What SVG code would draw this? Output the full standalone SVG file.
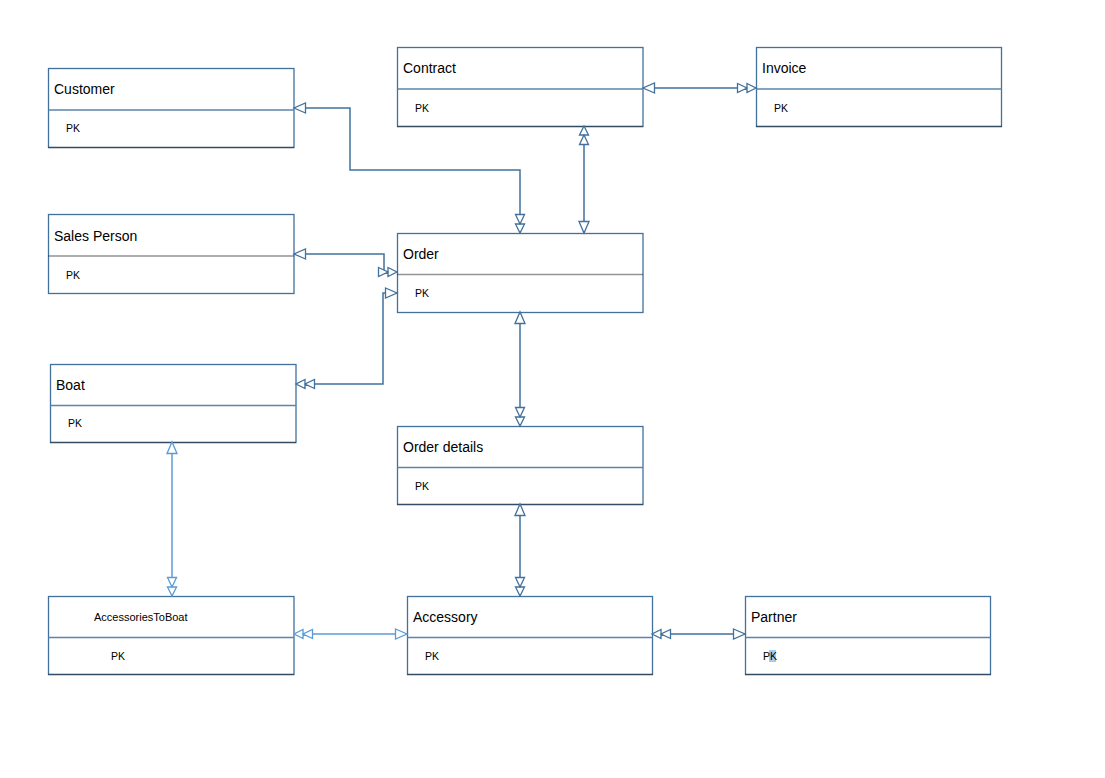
<svg xmlns="http://www.w3.org/2000/svg" width="1105" height="778" viewBox="0 0 1105 778">
<style>
.box{fill:#fff;stroke:#41719c;stroke-width:1.3}
.div{stroke:#5b84ad;stroke-width:1.3}
.dot{stroke:#2a2a2a;stroke-width:1.3;stroke-dasharray:1 1}
.t{font-family:"Liberation Sans",Arial,sans-serif;font-size:14px;fill:#000}
.pk{font-family:"Liberation Sans",Arial,sans-serif;font-size:10.5px;fill:#000}
.c{fill:none;stroke:#41719c;stroke-width:1.5}
.cl{fill:none;stroke:#5b9bd5;stroke-width:1.5}
</style>
<defs>
<marker id="one" markerUnits="userSpaceOnUse" markerWidth="14" markerHeight="12" refX="12" refY="6" orient="auto-start-reverse" overflow="visible">
<path d="M0.5,1 L12,6 L0.5,11 Z" fill="#fff" stroke="#41719c" stroke-width="1.3"/>
</marker>
<marker id="two" markerUnits="userSpaceOnUse" markerWidth="20" markerHeight="12" refX="19" refY="6" orient="auto-start-reverse" overflow="visible">
<path d="M0.5,1.5 L10,6 L0.5,10.5 Z M10,1.5 L19,6 L10,10.5 Z" fill="#fff" stroke="#41719c" stroke-width="1.3"/>
</marker>
<marker id="oneL" markerUnits="userSpaceOnUse" markerWidth="14" markerHeight="12" refX="12" refY="6" orient="auto-start-reverse" overflow="visible">
<path d="M0.5,1 L12,6 L0.5,11 Z" fill="#fff" stroke="#5b9bd5" stroke-width="1.3"/>
</marker>
<marker id="twoL" markerUnits="userSpaceOnUse" markerWidth="20" markerHeight="12" refX="19" refY="6" orient="auto-start-reverse" overflow="visible">
<path d="M0.5,1.5 L10,6 L0.5,10.5 Z M10,1.5 L19,6 L10,10.5 Z" fill="#fff" stroke="#5b9bd5" stroke-width="1.3"/>
</marker>
</defs>
<rect width="1105" height="778" fill="#fff"/>

<g id="customer">
<rect class="box" x="48.5" y="68.5" width="245.5" height="79"/>
<line class="div" x1="48.5" y1="110" x2="294" y2="110"/>
<line class="dot" x1="48.5" y1="147.5" x2="294" y2="147.5"/>
<text class="t" x="54" y="94">Customer</text>
<text class="pk" x="66" y="132">PK</text>
</g>

<g id="contract">
<rect class="box" x="397.5" y="47.5" width="245.5" height="79"/>
<line class="div" x1="397.5" y1="89" x2="643" y2="89"/>
<line class="dot" x1="397.5" y1="126.5" x2="643" y2="126.5"/>
<text class="t" x="403" y="73">Contract</text>
<text class="pk" x="415" y="112">PK</text>
</g>

<g id="invoice">
<rect class="box" x="756.5" y="47.5" width="245" height="79"/>
<line class="div" x1="756.5" y1="89" x2="1001.5" y2="89"/>
<line class="dot" x1="756.5" y1="126.5" x2="1001.5" y2="126.5"/>
<text class="t" x="762" y="73">Invoice</text>
<text class="pk" x="774" y="112">PK</text>
</g>

<g id="salesperson">
<rect class="box" x="48.5" y="214.5" width="245.5" height="79"/>
<line class="dot" x1="48.5" y1="256" x2="294" y2="256"/>
<text class="t" x="54" y="241">Sales Person</text>
<text class="pk" x="66" y="279">PK</text>
</g>

<g id="order">
<rect class="box" x="397.5" y="233.5" width="245.5" height="79"/>
<line class="dot" x1="397.5" y1="274.5" x2="643" y2="274.5"/>
<text class="t" x="403" y="259">Order</text>
<text class="pk" x="415" y="297">PK</text>
</g>

<g id="boat">
<rect class="box" x="50.5" y="364.5" width="245.5" height="78"/>
<line class="div" x1="50.5" y1="405.5" x2="296" y2="405.5"/>
<line class="dot" x1="50.5" y1="442.5" x2="296" y2="442.5"/>
<text class="t" x="56" y="390">Boat</text>
<text class="pk" x="68" y="427">PK</text>
</g>

<g id="orderdetails">
<rect class="box" x="397.5" y="426.5" width="245.5" height="78"/>
<line class="div" x1="397.5" y1="467.5" x2="643" y2="467.5"/>
<line class="dot" x1="397.5" y1="504.5" x2="643" y2="504.5"/>
<text class="t" x="403" y="452">Order details</text>
<text class="pk" x="415" y="490">PK</text>
</g>

<g id="accessoriestoboat">
<rect class="box" x="48.5" y="596.5" width="245.5" height="78"/>
<line class="div" x1="48.5" y1="637.5" x2="294" y2="637.5"/>
<line class="dot" x1="48.5" y1="674.5" x2="294" y2="674.5"/>
<text class="pk" x="94" y="621" style="font-size:11px">AccessoriesToBoat</text>
<text class="pk" x="111" y="660">PK</text>
</g>

<g id="accessory">
<rect class="box" x="407.5" y="596.5" width="245" height="78"/>
<line class="div" x1="407.5" y1="637.5" x2="652.5" y2="637.5"/>
<line class="dot" x1="407.5" y1="674.5" x2="652.5" y2="674.5"/>
<text class="t" x="413" y="622">Accessory</text>
<text class="pk" x="425" y="660">PK</text>
</g>

<g id="partner">
<rect class="box" x="745.5" y="596.5" width="245" height="78"/>
<line class="div" x1="745.5" y1="637.5" x2="990.5" y2="637.5"/>
<line class="dot" x1="745.5" y1="674.5" x2="990.5" y2="674.5"/>
<text class="t" x="751" y="622">Partner</text>
<rect x="769" y="650" width="7" height="12" fill="#a9c9ea"/>
<text class="pk" x="763" y="660">PK</text>
</g>

<g id="connectors">
<path class="c" d="M643,88 L756,88" marker-start="url(#one)" marker-end="url(#two)"/>
<path class="c" d="M294,108 L350,108 L350,170 L520,170 L520,233" marker-start="url(#one)" marker-end="url(#two)"/>
<path class="c" d="M584,126 L584,233" marker-start="url(#two)" marker-end="url(#one)"/>
<path class="c" d="M294,254 L384,254 L384,272 L397,272" marker-start="url(#one)" marker-end="url(#two)"/>
<path class="c" d="M296,384 L383,384 L383,293 L397,293" marker-start="url(#two)" marker-end="url(#one)"/>
<path class="c" d="M520,312 L520,426" marker-start="url(#one)" marker-end="url(#two)"/>
<path class="c" d="M520,504 L520,596" marker-start="url(#one)" marker-end="url(#two)"/>
<path class="cl" d="M172,442 L172,596" marker-start="url(#oneL)" marker-end="url(#twoL)"/>
<path class="cl" d="M294,634 L407,634" marker-start="url(#twoL)" marker-end="url(#oneL)"/>
<path class="c" d="M652,634 L745,634" marker-start="url(#two)" marker-end="url(#one)"/>
</g>
</svg>
